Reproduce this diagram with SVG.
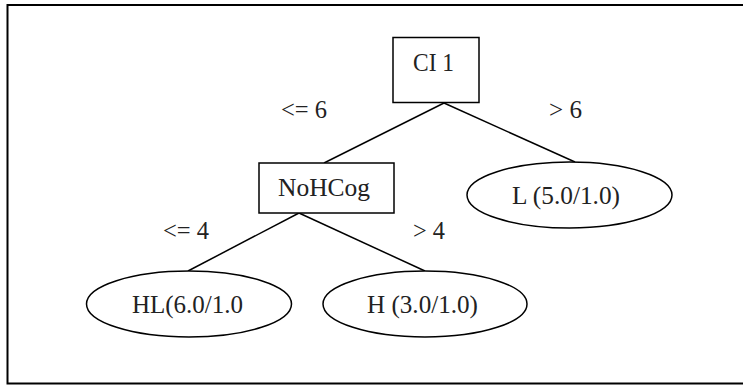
<svg xmlns="http://www.w3.org/2000/svg" width="743" height="385" viewBox="0 0 743 385">
<style>
.shape{fill:#fff;stroke:#000;stroke-width:1.5}
.edge{stroke:#000;stroke-width:1.5;fill:none}
text{font-family:"Liberation Serif","Times New Roman",serif;font-size:26px;fill:#222}
</style>
<rect x="7.5" y="5" width="745" height="378.5" fill="#fff" stroke="#000" stroke-width="2"/>
<g id="connectors">
<line class="edge" x1="444" y1="103" x2="324" y2="163"/>
<line class="edge" x1="444" y1="103" x2="575" y2="162"/>
<line class="edge" x1="299" y1="213" x2="188" y2="271"/>
<line class="edge" x1="299" y1="213" x2="425" y2="271"/>
<text x="281" y="118" textLength="46" lengthAdjust="spacingAndGlyphs">&lt;= 6</text>
<text x="549" y="118" textLength="33" lengthAdjust="spacingAndGlyphs">&gt; 6</text>
<text x="163" y="239" textLength="46" lengthAdjust="spacingAndGlyphs">&lt;= 4</text>
<text x="413" y="239" textLength="32" lengthAdjust="spacingAndGlyphs">&gt; 4</text>
</g>
<g id="ci1">
<rect class="shape" x="393" y="37.5" width="86" height="65"/>
<text x="413" y="71" textLength="41" lengthAdjust="spacingAndGlyphs">CI 1</text>
</g>
<g id="nohcog">
<rect class="shape" x="259" y="163" width="135" height="50"/>
<text x="278" y="196" textLength="92" lengthAdjust="spacingAndGlyphs">NoHCog</text>
</g>
<g id="leafL">
<ellipse class="shape" cx="569.5" cy="195" rx="102.5" ry="33"/>
<text x="512" y="203.5" textLength="108" lengthAdjust="spacingAndGlyphs">L (5.0/1.0)</text>
</g>
<g id="leafHL">
<ellipse class="shape" cx="189" cy="304" rx="102.5" ry="33"/>
<text x="132" y="313" textLength="111" lengthAdjust="spacingAndGlyphs">HL(6.0/1.0</text>
</g>
<g id="leafH">
<ellipse class="shape" cx="425" cy="304" rx="102" ry="33"/>
<text x="367" y="313" textLength="111" lengthAdjust="spacingAndGlyphs">H (3.0/1.0)</text>
</g>
</svg>
